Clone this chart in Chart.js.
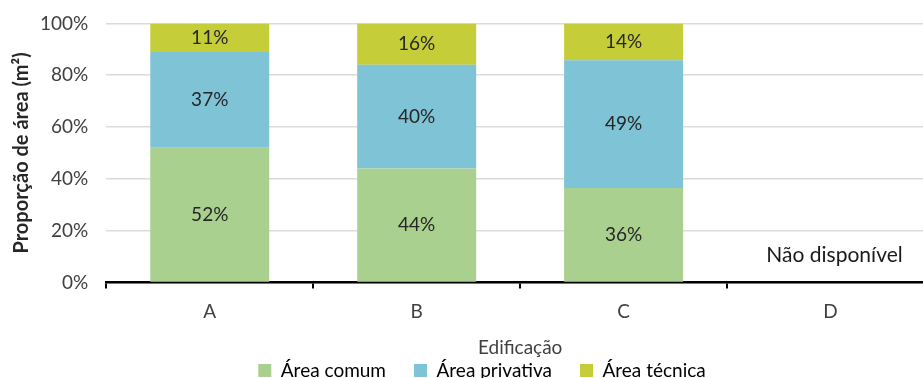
<!DOCTYPE html>
<html>
<head>
<meta charset="utf-8">
<script src="https://cdn.jsdelivr.net/npm/chart.js@4"></script>
<style>
  html, body { margin: 0; padding: 0; background: #fff; overflow: hidden; }
  #wrap { width: 923px; height: 378px; overflow: hidden; position: relative; }
  #box { position: absolute; left: 0; top: -6px; width: 934px; height: 396px; }
</style>
</head>
<body>
<div id="wrap"><div id="box"><canvas id="areaChart"></canvas></div></div>
<script>
const categories = ['A', 'B', 'C', 'D'];
const areaComum = [52, 44, 36.4, null];
const areaPrivativa = [37, 40, 49.4, null];
const areaTecnica = [11, 16, 14.2, null];
const yTicks = [0, 20, 40, 60, 80, 100];
const missingLabel = 'Não disponível';

const FONT = 'Lato, "Open Sans", sans-serif';

// writes the % inside each stacked segment
const segmentLabels = {
  id: 'segmentLabels',
  afterUpdate(chart) {
    // legend sits a little right of centre in the original
    if (chart.legend) { chart.legend.left += 10; chart.legend.right += 10; }
  },
  afterDatasetsDraw(chart) {
    const c = chart.ctx;
    c.save();
    c.font = '19px ' + FONT;
    c.fillStyle = '#262626';
    c.textAlign = 'center';
    c.textBaseline = 'middle';
    chart.data.datasets.forEach((ds, i) => {
      chart.getDatasetMeta(i).data.forEach((bar, j) => {
        const v = ds.data[j];
        if (v == null) return;
        c.fillText(Math.round(v) + '%', bar.x, (bar.y + bar.base) / 2);
      });
    });
    // placeholder for the building without data
    const xs = chart.scales.x, ys = chart.scales.y;
    c.font = '21px ' + FONT;
    c.fillStyle = '#1a1a1a';
    c.fillText(missingLabel, xs.getPixelForValue(3) + 4, ys.getPixelForValue(10.5));
    c.restore();
  }
};

new Chart(document.getElementById('areaChart'), {
  type: 'bar',
  data: {
    labels: categories,
    datasets: [
      { label: 'Área comum', data: areaComum, backgroundColor: '#a9d08e' },
      { label: 'Área privativa', data: areaPrivativa, backgroundColor: '#7fc3d7' },
      { label: 'Área técnica', data: areaTecnica, backgroundColor: '#c5cd38' }
    ]
  },
  options: {
    responsive: true,
    maintainAspectRatio: false,
    animation: false,
    categoryPercentage: 1,
    barPercentage: 0.575,
    layout: { padding: { top: 2, right: 0, left: 10, bottom: 0 } },
    plugins: {
      legend: {
        position: 'bottom',
        labels: {
          font: { family: FONT, size: 19 },
          color: '#404040',
          boxWidth: 13,
          boxHeight: 13,
          padding: 28,
          generateLabels(chart) {
            return chart.data.datasets.map((ds, i) => ({
              text: ds.label,
              fillStyle: ds.backgroundColor,
              strokeStyle: ds.backgroundColor,
              lineWidth: 0,
              datasetIndex: i
            }));
          }
        }
      },
      tooltip: { enabled: false }
    },
    scales: {
      x: {
        stacked: true,
        z: 1,
        border: { display: true, color: '#000', width: 2.5 },
        grid: { display: true, offset: true, drawOnChartArea: false, color: '#000', lineWidth: 2, tickLength: 6 },
        ticks: { font: { family: FONT, size: 19 }, color: '#404040', padding: 12 },
        title: { display: true, text: 'Edificação', font: { family: FONT, size: 19 }, color: '#404040', padding: { top: 1, bottom: -26 } }
      },
      y: {
        stacked: true,
        min: 0,
        max: 100,
        z: 1,
        afterBuildTicks(axis) { axis.ticks = yTicks.map(v => ({ value: v })); },
        border: { display: false },
        grid: { color: 'rgba(0,0,0,0.14)', lineWidth: 1.5, drawTicks: false },
        ticks: { font: { family: FONT, size: 19 }, color: '#404040', padding: 18, callback: v => v + '%' },
        title: { display: true, text: 'Proporção de área (m²)', font: { family: FONT, size: 20, weight: 'bold' }, color: '#262626', padding: { top: 0, bottom: -12 } }
      }
    }
  },
  plugins: [segmentLabels]
});
</script>
</body>
</html>
